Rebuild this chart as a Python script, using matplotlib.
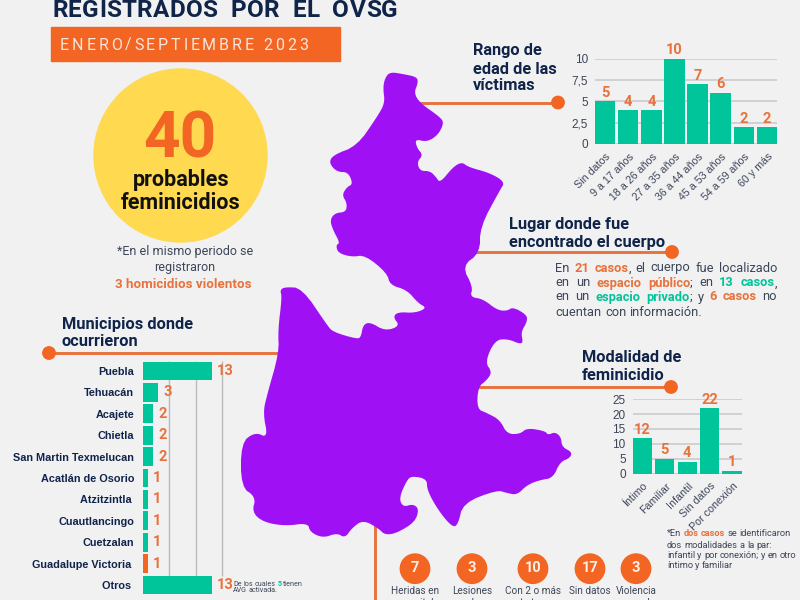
import re
import matplotlib
matplotlib.use("Agg")
import matplotlib.pyplot as plt
from matplotlib.patches import Circle, Polygon, Rectangle
from matplotlib.transforms import ScaledTranslation

# colours
bg_col = "#F1F1F2"
purple = "#A010F5"
orange = "#F26522"
soft_orange = "#E8723C"
teal = "#00C49A"
yellow = "#FFD950"
navy = "#10244A"
grey_txt = "#3C4658"
grid_col = "#C6C8CC"

# rango de edad
edad_labels = ["Sin datos", "9 a 17 años", "18 a 26 años", "27 a 35 años",
               "36 a 44 años", "45 a 53 años", "54 a 59 años", "60 y más"]
edad_vals = [5, 4, 4, 10, 7, 6, 2, 2]
edad_ticks = [0, 2.5, 5, 7.5, 10]
edad_ticklabels = ["0", "2,5", "5", "7,5", "10"]

# modalidad
modal_labels = ["Íntimo", "Familiar", "Infantil", "Sin datos", "Por conexión"]
modal_vals = [12, 5, 4, 22, 1]
modal_ticks = [0, 5, 10, 15, 20, 25]

# municipios (trailing spaces are in the original labels)
muni_labels = ["Puebla", "Tehuacán", "Acajete", "Chietla", "San Martin Texmelucan",
               "Acatlán de Osorio", "Atzitzintla ", "Cuautlancingo", "Cuetzalan",
               "Guadalupe Victoria ", "Otros "]
muni_vals = [13, 3, 2, 2, 2, 1, 1, 1, 1, 1, 13]
muni_grid = [5, 10, 15]

# causas
causa_vals = [7, 3, 10, 17, 3]
causa_l1 = ["Heridas en", "Lesiones", "Con 2 o más", "Sin datos", "Violencia"]
causa_l2 = ["zonas vitales", "y golpes", "tratos", "", "sexual"]
causa_x = [415, 472, 533, 590, 636]

lugar_text = ["En {21 casos}, el cuerpo fue localizado",
              "en un {espacio público}; en [13 casos],",
              "en un [espacio privado]; y {6 casos} no",
              "cuentan con información."]
modal_note = ["*En {dos casos} se identificaron",
              "dos modalidades a la par:",
              "infantil y por conexión; y en otro",
              "íntimo y familiar"]

# outline of the state, in image pixels
mapa = [(390,72),(403,74),(417,77),(418,83),(414,93),(420,103),(440,117),(444,123),(438,135),
        (427,142),(415,139),(417,148),(423,155),(417,162),(420,171),(430,171),(436,177),(440,183),
        (453,167),(462,162),(468,167),(490,173),(505,182),(500,190),(480,227),(480,253),(462,266),
        (473,287),(470,297),(483,299),(497,310),(507,311),(513,307),(527,315),(527,322),(521,332),
        (523,342),(520,344),(508,339),(495,340),(485,362),(492,372),(487,380),(478,387),(477,409),
        (487,413),(500,420),(507,434),(520,434),(527,428),(545,431),(548,435),(555,432),(561,437),
        (562,447),(572,452),(570,458),(560,462),(553,478),(540,480),(527,485),(517,495),(507,493),
        (497,490),(463,503),(458,525),(452,527),(438,510),(427,490),(427,479),(412,476),(407,480),
        (399,498),(403,507),(413,504),(419,509),(415,522),(397,533),(385,535),(378,528),(363,520),
        (352,528),(345,538),(337,533),(323,538),(310,532),(308,523),(285,526),(263,522),(252,512),
        (256,497),(241,487),(241,443),(255,432),(268,438),(263,413),(267,395),(279,353),(278,330),
        (282,297),(280,290),(285,287),(302,288),(327,325),(333,332),(357,339),(361,337),(363,325),
        (370,322),(385,331),(400,326),(393,317),(398,312),(415,313),(427,308),(418,303),(407,290),
        (390,285),(387,273),(365,255),(352,257),(338,253),(336,245),(340,243),(333,230),(330,220),
        (335,213),(346,212),(347,203),(342,195),(347,187),(353,184),(348,172),(337,172),(329,163),
        (333,155),(357,146),(377,117),(385,103),(383,88),(385,78)]

plt.rcParams["font.family"] = ["Roboto", "DejaVu Sans"]
fig = plt.figure(figsize=(8, 6), dpi=100, facecolor=bg_col)
W, H = 800.0, 600.0

# whole figure axes in pixels, y down
ax = fig.add_axes([0, 0, 1, 1])
ax.set_xlim(0, W)
ax.set_ylim(H, 0)
ax.axis("off")
rend = fig.canvas.get_renderer()


def px_axes(x0, y0, x1, y1):
    a = fig.add_axes([x0 / W, 1 - y1 / H, (x1 - x0) / W, (y1 - y0) / H])
    a.patch.set_alpha(0)
    for s in a.spines.values():
        s.set_visible(False)
    a.tick_params(length=0)
    return a


def text_w(s, **kw):
    t = ax.text(0, 0, s, **kw)
    w = t.get_window_extent(rend).width
    t.remove()
    return w


def spaced(x, y, s, gap, **kw):
    # letter spacing by hand
    ref = text_w("HH", **kw)
    for ch in s:
        if ch != " ":
            ax.text(x, y, ch, ha="left", va="baseline", **kw)
        x += text_w("H" + ch + "H", **kw) - ref + gap


def parse(line):
    words = [[]]
    for part in re.findall(r"\{[^}]*\}|\[[^\]]*\]|[^{\[]+", line):
        style = (grey_txt, "normal")
        if part[0] == "{":
            style = (soft_orange, "bold")
            part = part[1:-1]
        elif part[0] == "[":
            style = (teal, "bold")
            part = part[1:-1]
        for i, c in enumerate(part.split(" ")):
            if i > 0:
                words.append([])
            if c:
                words[-1].append((c, style))
    return [w for w in words if w]


def rich(x0, x1, y, line, size):
    words = parse(line)
    kw = {"fontsize": size}
    widths = [sum(text_w(c, fontweight=st[1], **kw) for c, st in w) for w in words]
    if x1 is None:
        gap = text_w("a a", **kw) - text_w("aa", **kw)
    else:
        gap = (x1 - x0 - sum(widths)) / (len(words) - 1)
    x = x0
    for w, wd in zip(words, widths):
        for c, st in w:
            ax.text(x, y, c, color=st[0], fontweight=st[1], va="center", ha="left", **kw)
            x += text_w(c, fontweight=st[1], **kw)
        x += gap


def connector(x0, x1, y, dot_x):
    ax.plot([x0, x1], [y, y], color=soft_orange, lw=2.1, zorder=1, solid_capstyle="butt")
    ax.add_patch(Circle((dot_x, y), 6.2, color=orange, zorder=2))


def rounded(pts, n=2):
    # chaikin, softens the corners of the traced outline
    for _ in range(n):
        new = []
        for i in range(len(pts)):
            a, b = pts[i], pts[(i + 1) % len(pts)]
            new.append((0.75 * a[0] + 0.25 * b[0], 0.75 * a[1] + 0.25 * b[1]))
            new.append((0.25 * a[0] + 0.75 * b[0], 0.25 * a[1] + 0.75 * b[1]))
        pts = new
    return pts


def value_labels(a, vals, off=6):
    for i, v in enumerate(vals):
        a.annotate(str(v), (i, v), xytext=(0, off), textcoords="offset points",
                   ha="center", va="center", color=soft_orange, fontsize=10.5,
                   fontweight="bold", annotation_clip=False)


def vbars(a, labels, vals, ticks, ticklabels, width, ymax):
    a.bar(range(len(vals)), vals, width=width, color=teal, zorder=3)
    a.set_xlim(-width / 2, len(vals) - 1 + width / 2)
    a.set_ylim(0, ymax)
    a.set_yticks(ticks)
    a.set_yticklabels(ticklabels, fontsize=8.5, color=grey_txt, family="Liberation Sans")
    a.grid(axis="y", color=grid_col, lw=1.1, zorder=0)
    a.tick_params(axis="y", pad=5)
    a.set_xticks(range(len(vals)))
    a.set_xticklabels(labels, rotation=45, ha="right", va="center", rotation_mode="anchor",
                      fontsize=7.7, color=grey_txt, family="Liberation Sans")
    off = ScaledTranslation(4 / 100, -6 / 100, fig.dpi_scale_trans)
    for t in a.get_xticklabels():
        t.set_transform(t.get_transform() + off)
    value_labels(a, vals)


# title block
spaced(52, 17, "REGISTRADOS  POR  EL  OVSG", 0.35, fontsize=17.5, fontweight="bold", color=navy)
ax.add_patch(Rectangle((51, 27), 289, 34, color=orange))
spaced(60, 49.5, "ENERO/SEPTIEMBRE 2023", 2.8, fontsize=11.5, color="#F6E6DC")

# big circle
ax.add_patch(Circle((180.5, 155.5), 86.5, color=yellow))
ax.text(180, 158, "40", ha="center", va="baseline", fontsize=46, fontweight="bold", color=orange)
ax.text(181, 180, "probables", ha="center", va="center", fontsize=15.5, fontweight="bold", color="#111111")
ax.text(181, 203, "feminicidios", ha="center", va="center", fontsize=15.5, fontweight="bold", color="#111111")
ax.text(185, 252, "*En el mismo periodo se", ha="center", va="center", fontsize=9, color=grey_txt)
ax.text(185, 268, "registraron", ha="center", va="center", fontsize=9, color=grey_txt)
ax.text(183, 284, "3 homicidios violentos", ha="center", va="center", fontsize=9.6, fontweight="bold", color=soft_orange)

# map and connectors
connector(400, 558, 102.5, 558)
connector(470, 672, 252, 672)
connector(470, 671, 387, 671)
connector(49, 290, 353, 49)
ax.plot([375, 375], [520, 600], color=soft_orange, lw=2.1, zorder=1)
ax.add_patch(Polygon(rounded(mapa), closed=True, facecolor=purple, edgecolor="none", zorder=3))

# headers
for x, y, s in [(473, 51, "Rango de"), (473, 69, "edad de las"), (473, 86, "víctimas"),
                (509, 224, "Lugar donde fue"), (509, 242, "encontrado el cuerpo"),
                (582, 358, "Modalidad de"), (582, 375, "feminicidio"),
                (62, 324, "Municipios donde"), (62, 341, "ocurrieron")]:
    ax.text(x, y, s, ha="left", va="center", fontsize=11.8, fontweight="bold", color=navy)

# lugar paragraph
for i, (y, line) in enumerate(zip([268, 283, 297, 312.5], lugar_text)):
    rich(555.5, None if i == 3 else 777, y, line, 9.3)

# modalidad note
for y, line in zip([534, 545, 555, 565], modal_note):
    rich(667, None, y, line, 6.7)

# age chart
a1 = px_axes(595, 58.7, 777, 144)
vbars(a1, edad_labels, edad_vals, edad_ticks, edad_ticklabels, 0.88, 10)

# modalidad chart
a2 = px_axes(632.7, 399.3, 741.7, 473.5)
vbars(a2, modal_labels, modal_vals, modal_ticks, [str(v) for v in modal_ticks], 0.86, 25)

# municipios chart
a3 = px_axes(142.5, 360.3, 225, 595.7)
cols = [teal] * len(muni_vals)
cols[9] = orange
a3.barh(range(len(muni_vals)), muni_vals, height=0.87, color=cols, zorder=3)
a3.set_xlim(0, 15.5)
a3.set_ylim(len(muni_vals) - 0.5, -0.5)
a3.vlines(muni_grid, -0.45, 9.6, color="#B9BBBF", lw=1, zorder=1)
a3.set_xticks([])
a3.set_yticks(range(len(muni_vals)))
a3.set_yticklabels(muni_labels, fontsize=7.8, fontweight="bold", color=navy, family="Liberation Sans")
a3.tick_params(axis="y", pad=6)
for i, v in enumerate(muni_vals):
    a3.annotate(str(v), (v, i), xytext=(3.5, 0), textcoords="offset points", ha="left", va="center",
                color=soft_orange, fontsize=10.5, fontweight="bold", annotation_clip=False, zorder=4)
rich(233, None, 584, "De los cuales [5] tienen", 5.1)
rich(233, None, 591, "AVG activada.", 5.1)

# causas row
for x, v, l1, l2 in zip(causa_x, causa_vals, causa_l1, causa_l2):
    ax.add_patch(Circle((x, 568.7), 14.7, color=orange))
    ax.text(x, 568.5, str(v), ha="center", va="center", color="#FBEFE6", fontsize=10.5, fontweight="bold")
    ax.text(x, 591.5, l1, ha="center", va="center", color=grey_txt, fontsize=7.2)
    ax.text(x, 602.5, l2, ha="center", va="center", color=grey_txt, fontsize=7.2)

fig.savefig("out.png", dpi=100, facecolor=bg_col)
